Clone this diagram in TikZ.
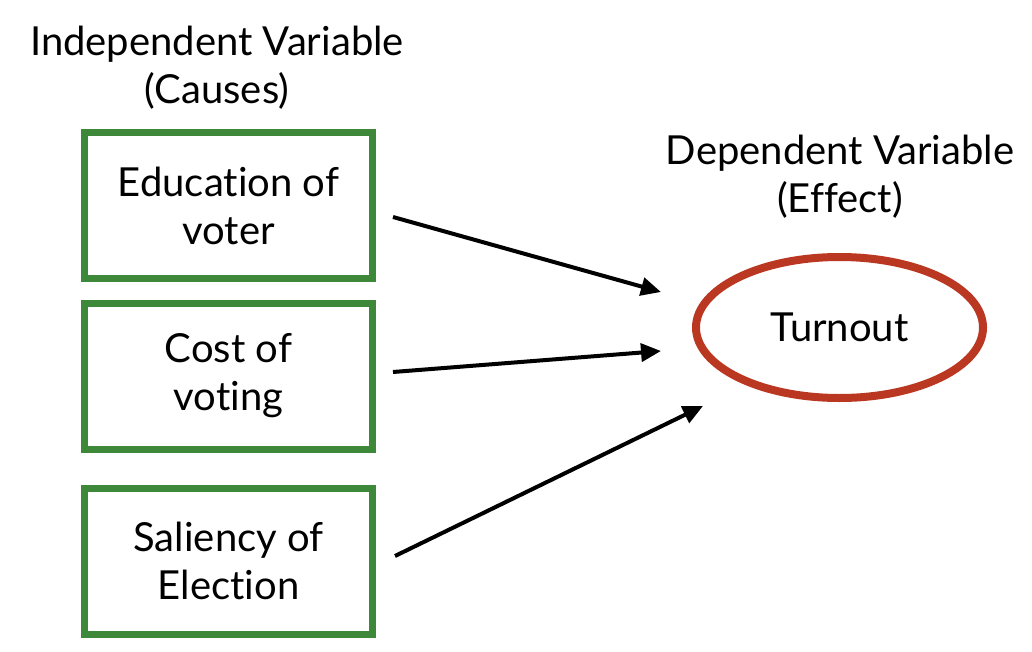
\documentclass[tikz,border=0pt]{standalone}
\usepackage{fontspec}
\setmainfont{Lato}[Ligatures=NoCommon]
\usetikzlibrary{arrows.meta,shapes.geometric}
\definecolor{boxgreen}{RGB}{62,136,58}
\definecolor{ovalred}{RGB}{186,56,34}
\begin{document}
\begin{tikzpicture}[x=1pt,y=-1pt,
  font=\fontsize{40}{48}\selectfont,
  causebox/.style={draw=boxgreen,line width=7pt,minimum width=288pt,minimum height=146pt,align=center,inner sep=0pt},
  effectoval/.style={draw=ovalred,line width=8pt,ellipse,minimum width=287pt,minimum height=141pt,inner sep=0pt},
  heading/.style={align=center,inner sep=0pt},
  link/.style={line width=4pt,-{Triangle[length=20pt,width=18pt]}}]
\useasboundingbox (0,0) rectangle (1032,652);
% draw the headings
\node[heading] (indep) at (217,68) {Independent Variable\\(Causes)};
\node[heading] (dep) at (840,177) {Dependent Variable\\(Effect)};
% draw the boxes and the oval
\node[causebox] (edu) at (228.5,205.5) {Education of\\voter};
\node[causebox] (cost) at (228.5,376) {Cost of\\voting};
\node[causebox] (sal) at (228.5,561) {Saliency of\\Election};
\node[effectoval] (turnout) at (839.5,327.5) {Turnout};
% arrow ends
\coordinate (edutail) at (393,217);
\coordinate (eduhead) at (661,292);
\coordinate (costtail) at (393,372);
\coordinate (costhead) at (661,351);
\coordinate (saltail) at (395,556);
\coordinate (salhead) at (703,406);
% draw the arrows
\draw[link] (edutail) -- (eduhead);
\draw[link] (costtail) -- (costhead);
\draw[link] (saltail) -- (salhead);
\end{tikzpicture}
\end{document}
